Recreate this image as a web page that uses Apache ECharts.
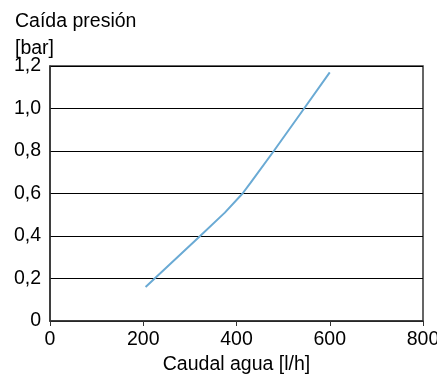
<!DOCTYPE html>
<html><head><meta charset="utf-8">
<script src="https://cdn.jsdelivr.net/npm/echarts@6/dist/echarts.min.js"></script>
<style>html,body{margin:0;padding:0;background:#fff}#c{width:437px;height:374px}</style>
</head><body><div id="c"></div>
<script>
const caudal = [205, 322, 375, 413, 430, 480, 545, 600];
const caida = [0.16, 0.40, 0.51, 0.60, 0.65, 0.80, 1.00, 1.17];
const xName = 'Caudal agua [l/h]';
const yName = 'Caída presión\n[bar]';
const font = 'Liberation Sans, Arial, sans-serif';
const fs = 19.5;
const chart = echarts.init(document.getElementById('c'));
chart.setOption({
  animation: false,
  title: {text: yName, left: 15, top: 8, padding: 0,
    textStyle: {fontSize: fs, fontWeight: 'normal', color: '#000', fontFamily: font, lineHeight: 27}},
  grid: {left: 50, right: 14, top: 66, bottom: 53, show: true, borderColor: '#333', borderWidth: 1.5,
    containLabel: false, outerBoundsMode: 'none'},
  xAxis: {
    type: 'value', min: 0, max: 800, interval: 200,
    name: xName, nameLocation: 'middle', nameGap: 31,
    nameTextStyle: {fontSize: fs, color: '#000', fontFamily: font},
    axisLine: {show: true, lineStyle: {color: '#333', width: 1.5}},
    axisTick: {show: true, length: 5, lineStyle: {color: '#333'}},
    axisLabel: {fontSize: fs, color: '#000', fontFamily: font, margin: 9},
    splitLine: {show: false}
  },
  yAxis: {
    type: 'value', min: 0, max: 1.2, interval: 0.2,
    axisLine: {show: true, lineStyle: {color: '#333', width: 1.5}},
    axisTick: {show: false},
    axisLabel: {fontSize: fs, color: '#000', fontFamily: font, margin: 9,
      formatter: v => v === 0 ? '0' : v.toFixed(1).replace('.', ',')},
    splitLine: {show: true, lineStyle: {color: '#000', width: 1}}
  },
  series: [{
    type: 'line', data: caudal.map((x, i) => [x, caida[i]]),
    showSymbol: false, smooth: false,
    lineStyle: {color: '#6aaad4', width: 2}
  }]
});
</script></body></html>
